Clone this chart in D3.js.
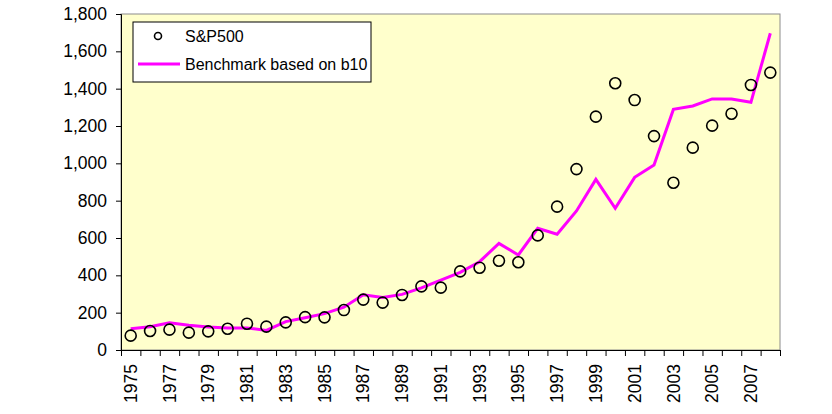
<!DOCTYPE html>
<html>
<head>
<meta charset="utf-8">
<script src="https://cdn.jsdelivr.net/npm/d3@7"></script>
<style>
  html, body { margin: 0; padding: 0; background: #fff; }
  svg { display: block; font-family: "Liberation Sans", Arial, sans-serif; }
</style>
</head>
<body>
<svg id="chart" width="832" height="414"></svg>
<script>
const years = d3.range(1975, 2009);
const sp500 = [77, 102, 109, 93, 100, 114, 141, 125, 148, 176, 175, 214, 270, 254, 295, 341, 334, 421, 441, 478, 470, 614, 768, 969, 1250, 1429, 1339, 1146, 896, 1084, 1202, 1266, 1420, 1486];
const benchmark = [114, 125, 146, 132, 123, 118, 118, 105, 152, 173, 195, 229, 296, 281, 298, 333, 374, 416, 473, 571, 509, 652, 620, 745, 914, 759, 925, 991, 1289, 1307, 1345, 1345, 1327, 1697];
const yTicks = [0, 200, 400, 600, 800, 1000, 1200, 1400, 1600, 1800];
const xLabelYears = years.filter((d, i) => i % 2 === 0);
const seriesNames = ["S&P500", "Benchmark based on b10"];

const mLeft = 121, mRight = 780, mTop = 14, mBottom = 350;
const svg = d3.select("#chart");

const x = d3.scaleBand().domain(years).range([mLeft, mRight]).paddingInner(0).paddingOuter(0);
const xb = d3.scaleLinear().domain([0, years.length]).range([mLeft, mRight]);
const y = d3.scaleLinear().domain([0, 1800]).range([mBottom, mTop]);

// plot background
svg.append("rect").attr("x", mLeft).attr("y", mTop).attr("width", mRight - mLeft).attr("height", mBottom - mTop)
  .attr("fill", "#FFFFCC").attr("stroke", "#8c8c8c").attr("stroke-width", 1);

// y axis
const yAxis = svg.append("g").attr("transform", `translate(${mLeft},0)`)
  .call(d3.axisLeft(y).tickValues(yTicks).tickSize(5).tickPadding(9).tickFormat(d3.format(",")));
yAxis.select(".domain").attr("stroke", "#000");
yAxis.selectAll(".tick line").attr("stroke", "#000");
yAxis.selectAll("text").attr("font-size", 17.5).attr("fill", "#000").attr("font-family", "Liberation Sans, Arial, sans-serif");

// x axis ticks at band boundaries
const xAxisTicks = svg.append("g").attr("transform", `translate(0,${mBottom})`)
  .call(d3.axisBottom(xb).tickValues(d3.range(0, years.length + 1)).tickSize(6).tickFormat(""));
xAxisTicks.select(".domain").attr("stroke", "#000");
xAxisTicks.selectAll(".tick line").attr("stroke", "#000");

// x labels
const xAxisLabels = svg.append("g").attr("transform", `translate(0,${mBottom})`)
  .call(d3.axisBottom(x).tickValues(xLabelYears).tickSize(0).tickPadding(0));
xAxisLabels.select(".domain").remove();
xAxisLabels.selectAll("text")
  .attr("font-size", 17.5).attr("fill", "#000").attr("font-family", "Liberation Sans, Arial, sans-serif")
  .attr("text-anchor", "end")
  .attr("transform", "translate(0,14) rotate(-90)")
  .attr("x", 0).attr("y", 0).attr("dy", "0.35em");

// benchmark line
const line = d3.line().x((d, i) => x(years[i]) + x.bandwidth() / 2).y(d => y(d));
svg.append("path").datum(benchmark).attr("d", line)
  .attr("fill", "none").attr("stroke", "#FF00FF").attr("stroke-width", 3).attr("stroke-linejoin", "miter");

// S&P circles
svg.append("g").selectAll("circle").data(sp500).join("circle")
  .attr("cx", (d, i) => x(years[i]) + x.bandwidth() / 2)
  .attr("cy", d => y(d))
  .attr("r", 5.5)
  .attr("fill", "none").attr("stroke", "#000").attr("stroke-width", 1.6);

// legend
const lg = svg.append("g");
lg.append("rect").attr("x", 133).attr("y", 22).attr("width", 238).attr("height", 60)
  .attr("fill", "#fff").attr("stroke", "#000").attr("stroke-width", 1);
lg.append("circle").attr("cx", 158).attr("cy", 36).attr("r", 3.5)
  .attr("fill", "none").attr("stroke", "#000").attr("stroke-width", 1.6);
lg.append("line").attr("x1", 138).attr("x2", 180).attr("y1", 64).attr("y2", 64)
  .attr("stroke", "#FF00FF").attr("stroke-width", 3);
lg.selectAll("text").data(seriesNames).join("text")
  .attr("x", 185).attr("y", (d, i) => 36 + i * 28).attr("dy", "0.35em")
  .attr("font-size", 16).attr("fill", "#000").text(d => d);
</script>
</body>
</html>
